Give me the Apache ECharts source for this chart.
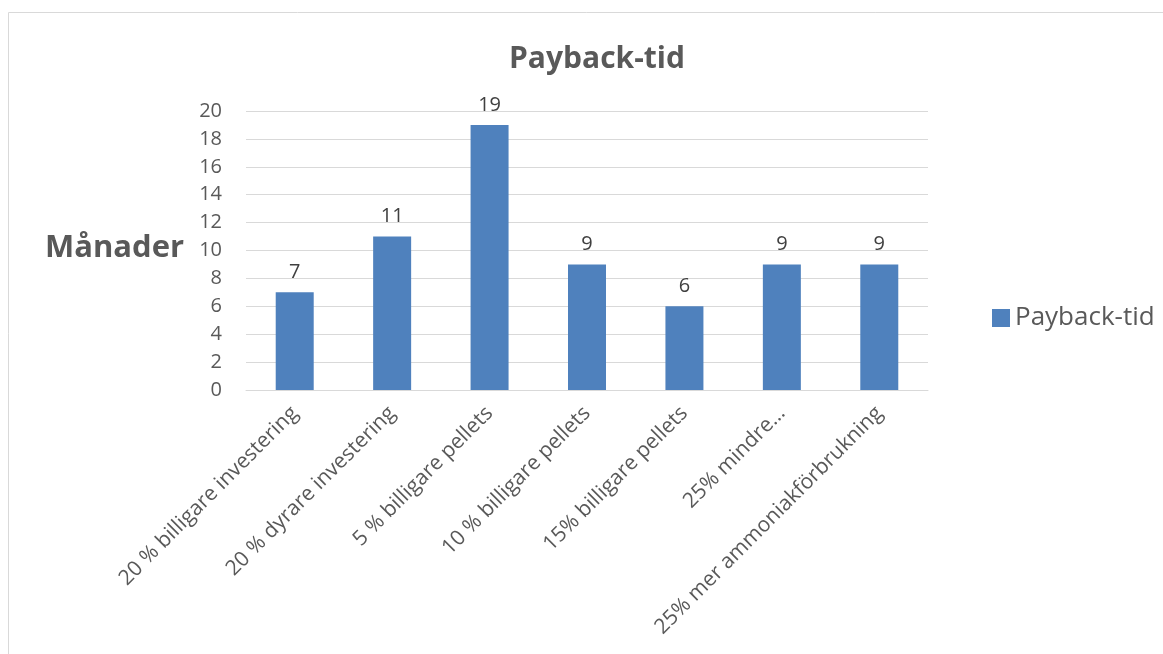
<!DOCTYPE html>
<html>
<head>
<meta charset="utf-8">
<script src="https://cdn.jsdelivr.net/npm/echarts@6/dist/echarts.min.js"></script>
<style>
    * { margin: 0; padding: 0; }
    html, body { width: 1163px; height: 654px; background: #fff; }
</style>
</head>
<body>
<div id="myEchArt" style="width:1163px;height:654px;"></div>
<script>
    // kategorier och värden (månader)
    const categories = [
        '20 % billigare investering',
        '20 % dyrare investering',
        '5 % billigare pellets',
        '10 % billigare pellets',
        '15% billigare pellets',
        '25% mindre…',
        '25% mer ammoniakförbrukning'
    ];
    const paybackValues = [7, 11, 19, 9, 6, 9, 9];
    const seriesName = 'Payback-tid';

    const font = '"Open Sans", sans-serif';
    const textColor = '#595959';

    let myChart = echarts.init(document.getElementById('myEchArt'));
    let option = {
        animation: false,
        title: {
            text: 'Payback-tid',
            left: 592,
            top: 39,
            textAlign: 'center',
            textStyle: { color: textColor, fontFamily: font, fontWeight: 'bold', fontSize: 30 }
        },
        legend: {
            data: [seriesName],
            icon: 'rect',
            left: 987,
            top: 300,
            itemWidth: 18,
            itemHeight: 18,
            itemGap: 9,
            textStyle: { color: textColor, fontFamily: font, fontSize: 26 }
        },
        graphic: [
            {
                type: 'rect',
                shape: { x: 8.5, y: 12.5, width: 1160, height: 660 },
                style: { fill: 'none', stroke: '#d9d9d9', lineWidth: 1 },
                silent: true
            },
            {
                type: 'text',
                left: 45,
                top: 233,
                style: { text: 'Månader', fill: textColor, font: 'bold 31px ' + font }
            }
        ],
        grid: { left: 246, right: 235, top: 111, bottom: 264 },
        xAxis: {
            type: 'category',
            data: categories,
            axisLine: { lineStyle: { color: '#d9d9d9', width: 1 } },
            axisTick: { show: false },
            axisLabel: {
                interval: 0,
                rotate: 45,
                margin: 20,
                color: textColor,
                fontFamily: font,
                fontSize: 21
            }
        },
        yAxis: {
            type: 'value',
            min: 0,
            max: 20,
            interval: 2,
            axisLine: { show: false },
            axisTick: { show: false },
            splitLine: { lineStyle: { color: '#d9d9d9', width: 1 } },
            axisLabel: { color: textColor, fontFamily: font, fontSize: 20, margin: 24 }
        },
        series: [
            {
                name: seriesName,
                type: 'bar',
                data: paybackValues,
                barWidth: '39%',
                itemStyle: { color: '#4f81bd' },
                label: {
                    show: true,
                    position: 'top',
                    distance: 10,
                    color: '#404040',
                    fontFamily: font,
                    fontSize: 20
                }
            }
        ]
    };
    myChart.setOption(option);
</script>
</body>
</html>
